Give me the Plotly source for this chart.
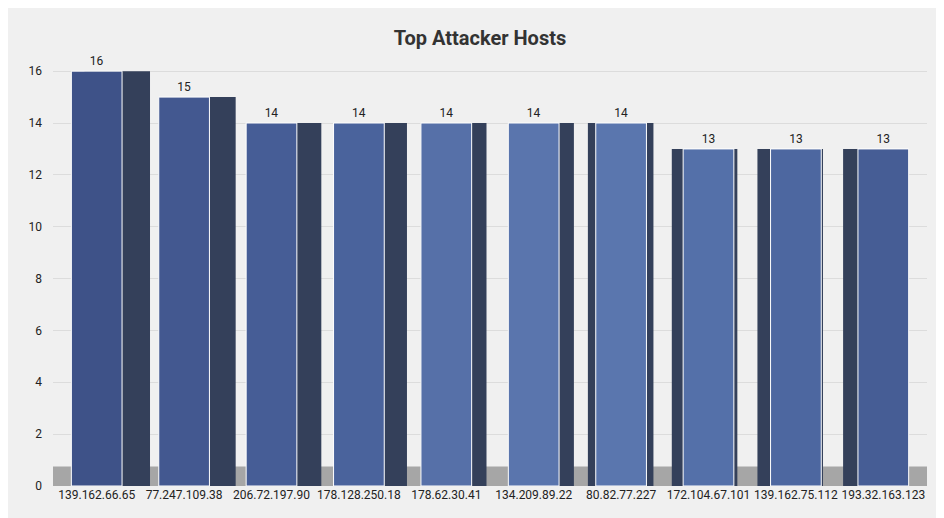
import plotly.graph_objects as go

hosts = ['139.162.66.65', '77.247.109.38', '206.72.197.90', '178.128.250.18', '178.62.30.41',
         '134.209.89.22', '80.82.77.227', '172.104.67.101', '139.162.75.112', '193.32.163.123']
counts = [16, 15, 14, 14, 14, 14, 14, 13, 13, 13]

# side face of the 3d look: right side on the left bars, left side on the right bars
side_offset = [-0.14, -0.16, -0.18, -0.2, -0.29, -0.29, -0.38, -0.42, -0.44, -0.46]

fig = go.Figure()
fig.add_trace(go.Bar(
    x=hosts, y=counts, width=0.75, offset=side_offset,
    marker=dict(color='#34405a', line=dict(color='#34405a', width=0)),
    hoverinfo='skip', showlegend=False
))
fig.add_trace(go.Bar(
    x=hosts, y=counts, width=0.58, offset=-0.29,
    marker=dict(color=['#3e5288', '#435890', '#465d96', '#4a639c', '#5670a8',
                       '#5a75ad', '#5a76ae', '#5470a9', '#4d67a0', '#465d95'],
                line=dict(color='white', width=1)),
    text=counts, textposition='outside', textfont=dict(size=12, color='#222'),
    cliponaxis=False, showlegend=False
))

fig.add_shape(type='rect', xref='paper', yref='paper', x0=0.0, x1=1.0, y0=0.0, y1=0.045,
              fillcolor='#a6a6a6', line=dict(width=0), layer='below')

fig.update_layout(
    width=944, height=518,
    barmode='overlay',
    title=dict(text='<b>Top Attacker Hosts</b>', x=0.5, y=0.955, xanchor='center',
               font=dict(size=20, color='#333')),
    font=dict(family='Roboto', color='#222', size=12),
    paper_bgcolor='#f0f0f0', plot_bgcolor='#f0f0f0',
    margin=dict(l=45, r=25, t=45, b=40),
    xaxis=dict(showgrid=False, tickfont=dict(size=12), ticks='', showline=False),
    yaxis=dict(range=[0, 16.7], dtick=2, gridcolor='#dcdcdc', zeroline=False,
               tickfont=dict(size=12), ticklabelstandoff=10)
)

fig.write_html('out.html')
